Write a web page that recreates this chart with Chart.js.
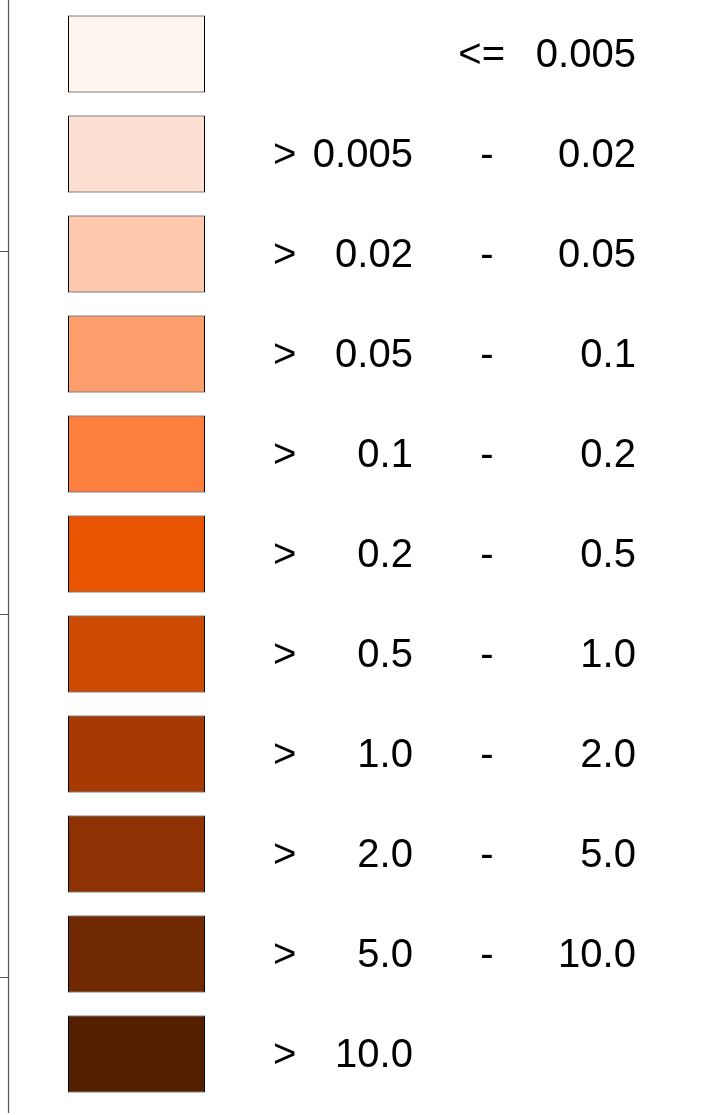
<!DOCTYPE html>
<html>
<head>
<meta charset="utf-8">
<title>Legend</title>
<script src="https://cdn.jsdelivr.net/npm/chart.js@4/dist/chart.umd.min.js"></script>
<style>
    html, body { margin: 0; padding: 0; background: #fff; }
    #wrap { width: 722px; height: 1115px; }
</style>
</head>
<body>
<div id="wrap"><canvas id="legendChart" width="722" height="1115"></canvas></div>
<script>
// --- Legend classes (breaks) ---
const classIds = ['c1', 'c2', 'c3', 'c4', 'c5', 'c6', 'c7', 'c8', 'c9', 'c10', 'c11'];
const lowerLabels = [null, '0.005', '0.02', '0.05', '0.1', '0.2', '0.5', '1.0', '2.0', '5.0', '10.0'];
const upperLabels = ['0.005', '0.02', '0.05', '0.1', '0.2', '0.5', '1.0', '2.0', '5.0', '10.0', null];
const swatchSpan = [1, 1, 1, 1, 1, 1, 1, 1, 1, 1, 1];
const classColors = [
    '#fef5ee', '#fde0d1', '#fec9ae', '#fd9f6c', '#fd7f3d', '#e95400',
    '#cc4a02', '#a53a03', '#8e3204', '#712902', '#541f00'
];

// clipped map frame on the left edge (graticule ticks)
const frameTicks = [20, 30, 40];

document.addEventListener('DOMContentLoaded', () => {
    const FONT = '40px "Liberation Sans", Arial, sans-serif';

    // x positions of the text columns, in x-scale units
    const col = { gt: 1.496, lo: 2.518, dash: 3.058, le: 3.19, hi: 4.146 };

    // --- Frame line + labels plugin ---
    const legendText = {
        id: 'legendText',
        beforeDraw(chart) {
            const { ctx } = chart;
            const frame = chart.scales.frame;
            const x = Math.round(chart.chartArea.left) + 0.5;
            ctx.save();
            ctx.strokeStyle = '#555';
            ctx.lineWidth = 1.2;
            ctx.beginPath();
            ctx.moveTo(x, 0);
            ctx.lineTo(x, chart.height - 2);
            frameTicks.forEach(v => {
                const ty = Math.round(frame.getPixelForValue(v)) + 0.5;
                ctx.moveTo(0, ty);
                ctx.lineTo(x, ty);
            });
            ctx.stroke();
            ctx.restore();
        },
        afterDatasetsDraw(chart) {
            const { ctx } = chart;
            const xs = chart.scales.x;
            const ys = chart.scales.y;
            ctx.save();
            ctx.font = FONT;
            ctx.fillStyle = '#000';
            ctx.textBaseline = 'middle';
            classIds.forEach((id, i) => {
                const y = ys.getPixelForValue(i) + 2;
                const lo = lowerLabels[i];
                const hi = upperLabels[i];
                if (lo === null) {
                    ctx.textAlign = 'right';
                    ctx.fillText('<=', xs.getPixelForValue(col.le), y);
                    ctx.fillText(hi, xs.getPixelForValue(col.hi), y);
                    return;
                }
                ctx.textAlign = 'left';
                ctx.fillText('>', xs.getPixelForValue(col.gt), y);
                ctx.textAlign = 'right';
                ctx.fillText(lo, xs.getPixelForValue(col.lo), y);
                if (hi !== null) {
                    ctx.textAlign = 'center';
                    ctx.fillText('-', xs.getPixelForValue(col.dash), y);
                    ctx.textAlign = 'right';
                    ctx.fillText(hi, xs.getPixelForValue(col.hi), y);
                }
            });
            ctx.restore();
        }
    };

    const ctx = document.getElementById('legendChart').getContext('2d');
    new Chart(ctx, {
        type: 'bar',
        data: {
            labels: classIds,
            datasets: [{
                data: swatchSpan,
                backgroundColor: classColors,
                borderColor: '#000',
                borderWidth: 1,
                borderSkipped: false,
                barPercentage: 0.77,
                categoryPercentage: 1.0
            }]
        },
        options: {
            indexAxis: 'y',
            responsive: false,
            animation: false,
            layout: { padding: { top: 4, bottom: 11, left: 8, right: 0 } },
            scales: {
                x: {
                    type: 'linear',
                    display: false,
                    min: -0.438,
                    max: 4.774
                },
                y: {
                    type: 'category',
                    display: false,
                    offset: true
                },
                frame: {
                    type: 'linear',
                    axis: 'y',
                    position: 'left',
                    display: false,
                    offset: false,
                    grid: { offset: false },
                    min: 16.5,
                    max: 46.8
                }
            },
            plugins: {
                legend: { display: false },
                tooltip: { enabled: false }
            }
        },
        plugins: [legendText]
    });
});
</script>
</body>
</html>
